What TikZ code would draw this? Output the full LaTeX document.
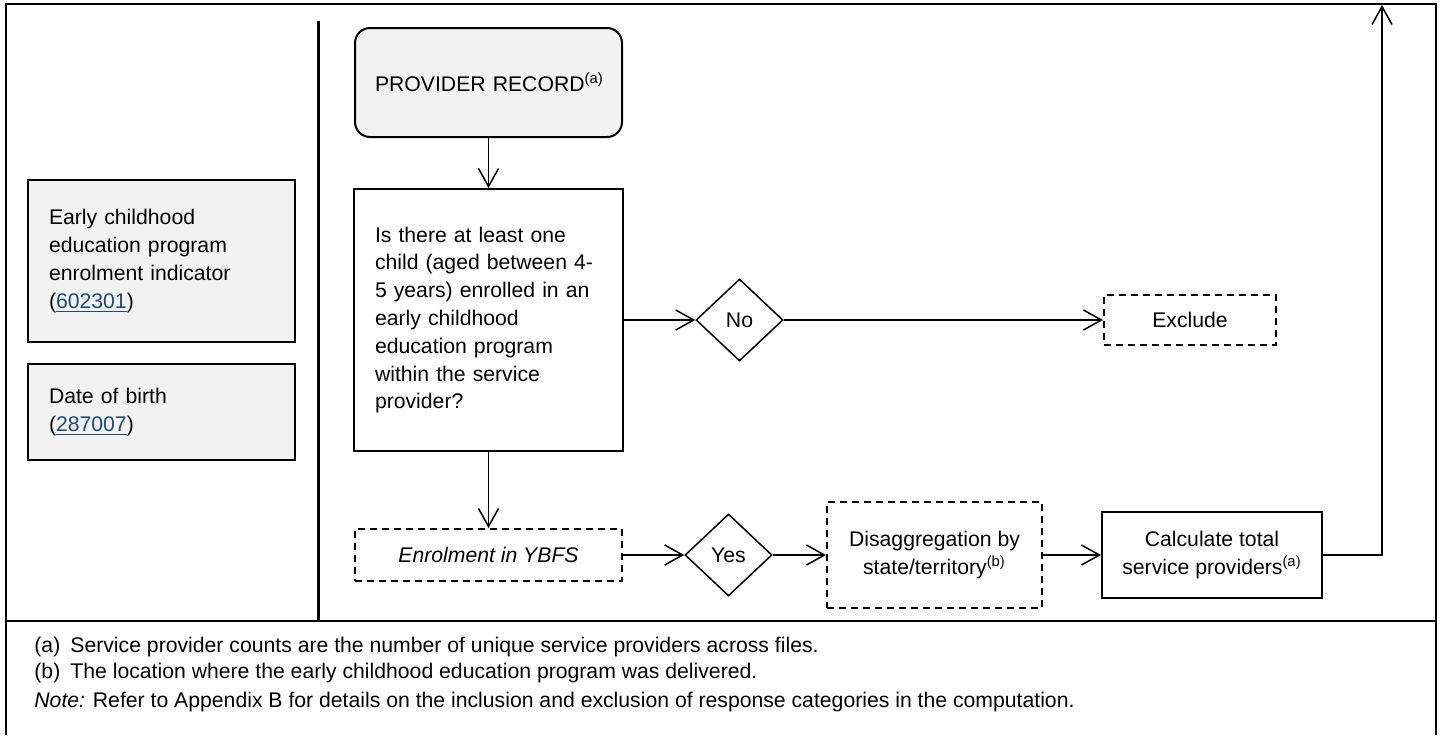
\documentclass[tikz,border=0pt]{standalone}
\usepackage{fontspec}
\setmainfont{Liberation Sans}
\usetikzlibrary{arrows.meta,shapes.geometric}
\definecolor{boxgray}{RGB}{242,242,242}
\definecolor{linkblue}{RGB}{31,73,125}
\newcommand{\lnk}[1]{\textcolor{linkblue}{\underline{#1}}}
\newcommand{\fnlbl}[1]{\makebox[18pt][l]{#1}}
\tikzset{
  field/.style={draw, line width=1pt, fill=boxgray, align=left, text width=112.5pt, inner xsep=10.5pt, minimum height=#1},
  record/.style={draw, line width=1pt, fill=boxgray, rounded corners=7.5pt, align=left, text width=113.5pt, inner xsep=10pt, minimum height=54.5pt},
  question/.style={draw, line width=1pt, align=left, text width=113.5pt, inner xsep=10.5pt, minimum height=131pt},
  choice/.style={draw, line width=0.75pt, diamond, inner sep=0pt, minimum width=43.5pt, minimum height=41pt},
  outbox/.style={draw, line width=1pt, dash pattern=on 3.5pt off 2.5pt, align=center, minimum width=#1},
  procbox/.style={draw, line width=1pt, align=center, minimum width=110pt, minimum height=43pt}
}

\begin{document}
\begin{tikzpicture}[x=0.5pt, y=-0.5pt, line width=0.75pt, >={Straight Barb[length=9pt,width=10pt]},
  every node/.style={font=\fontsize{10.6}{13.9}\selectfont}]
  \useasboundingbox (0,0) rectangle (1447,735);
  \draw[line width=1pt] (6,735) -- (6,4) -- (1436,4) -- (1436,735);
  \draw[line width=1pt] (6,621) -- (1436,621);
  \draw[line width=1.5pt] (318,21) -- (318,621);

  \node[field=81pt] (ecei) at (161.5,261) {Early childhood\\education program\\enrolment indicator\\(\lnk{602301})};
  \node[field=48pt] (dob) at (161.5,412) {Date of birth\\(\lnk{287007})};

  \node[record] (prov) at (488.5,82.5) {\mbox{PROVIDER RECORD\textsuperscript{(a)}}};
  \node[question] (q) at (488.5,320) {Is there at least one\\child (aged between 4-\\5 years) enrolled in an\\early childhood\\education program\\within the service\\provider?};
  \node[choice] (no) at (739.5,320) {No};
  \node[outbox=86pt, minimum height=25pt] (excl) at (1190,320) {Exclude};
  \node[outbox=133.5pt, minimum height=26pt] (enrol) at (488.5,555) {\textit{Enrolment in YBFS}};
  \node[choice] (yes) at (728.5,555) {Yes};
  \node[outbox=107.5pt, minimum height=53pt] (dis) at (934.5,555) {Disaggregation by\\state/territory\textsuperscript{(b)}};
  \node[procbox] (calc) at (1212,555) {Calculate total\\service providers\textsuperscript{(a)}};
  \coordinate (top) at (1382,5);

  \path[->]
  (prov) edge (q)
  (q) edge (no)
  (no) edge (excl)
  (q) edge (enrol)
  (enrol) edge (yes)
  (yes) edge (dis)
  (dis) edge (calc)
  ;
  \draw[->] (calc) -| (top);

  \node[anchor=base west] (fna) at (27,652) {\fnlbl{(a)}Service provider counts are the number of unique service providers across files.};
  \node[anchor=base west] (fnb) at (27,678) {\fnlbl{(b)}The location where the early childhood education program was delivered.};
  \node[anchor=base west] (note) at (27,707) {\textit{Note:} Refer to Appendix B for details on the inclusion and exclusion of response categories in the computation.};
\end{tikzpicture}
\end{document}
